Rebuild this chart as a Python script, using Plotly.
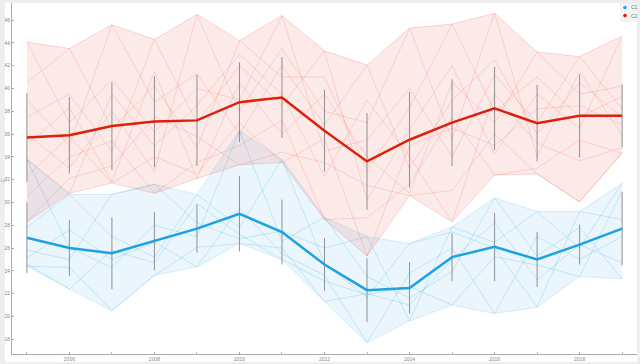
import plotly.graph_objects as go

years = list(range(2005, 2020))

# C1 (blue) summary
c1_mean = [26.9, 26.0, 25.55, 26.6, 27.7, 29.0, 27.4, 24.55, 22.3, 22.5, 25.2, 26.1, 25.0, 26.3, 27.7]
c1_err = [3.1, 2.45, 3.15, 2.55, 2.1, 3.3, 2.85, 2.3, 2.8, 2.25, 2.1, 3.0, 2.4, 1.75, 3.2]
c1_max = [33.8, 30.7, 30.7, 31.6, 30.7, 36.3, 33.8, 28.7, 27.0, 26.4, 27.85, 30.4, 29.2, 29.2, 31.7]
c1_min = [24.4, 22.4, 20.5, 23.6, 24.35, 26.4, 25.0, 21.3, 17.7, 19.6, 21.0, 20.25, 20.8, 23.5, 23.3]

# C1 individual series
c1_s1 = [33.8, 26.0, 24.3, 28.0, 27.0, 36.3, 26.6, 28.7, 23.5, 21.6, 23.95, 30.4, 25.3, 27.8, 23.3]
c1_s2 = [27.8, 30.7, 27.0, 25.2, 30.7, 27.8, 33.8, 24.6, 21.7, 26.4, 27.4, 26.0, 20.8, 29.2, 28.5]
c1_s3 = [25.8, 25.0, 30.7, 31.6, 28.2, 26.8, 27.5, 26.0, 27.0, 19.6, 27.85, 26.5, 29.2, 26.0, 31.7]
c1_s4 = [25.1, 27.6, 25.0, 26.5, 24.35, 29.5, 25.5, 23.6, 17.7, 23.8, 26.0, 20.25, 27.0, 25.0, 27.0]
c1_s5 = [24.6, 22.4, 25.8, 24.7, 29.9, 27.2, 25.0, 23.1, 21.9, 22.6, 21.0, 25.25, 24.5, 23.5, 31.0]
c1_s6 = [24.4, 24.3, 20.5, 23.6, 26.05, 26.4, 26.0, 21.3, 22.0, 21.0, 25.0, 28.2, 23.2, 26.3, 24.7]

# C2 (red) summary
c2_mean = [35.7, 35.9, 36.7, 37.1, 37.2, 38.8, 39.2, 36.3, 33.6, 35.5, 37.0, 38.25, 36.96, 37.6, 37.6]
c2_err = [3.9, 3.35, 3.85, 4.0, 4.0, 3.5, 3.55, 3.6, 4.25, 4.2, 3.8, 3.65, 3.35, 3.65, 2.75]
c2_max = [44.07, 43.5, 45.6, 44.3, 46.5, 44.2, 46.4, 43.3, 42.05, 45.3, 45.65, 46.6, 43.2, 42.8, 44.6]
c2_min = [28.3, 30.8, 31.7, 30.8, 32.1, 33.3, 33.5, 28.5, 25.3, 30.6, 28.3, 32.4, 32.5, 30.05, 34.3]

# C2 individual series
c2_s1 = [44.07, 37.0, 40.8, 36.2, 40.0, 39.0, 46.4, 34.5, 35.5, 40.0, 34.0, 41.2, 37.0, 42.8, 38.2]
c2_s2 = [40.5, 43.5, 36.5, 40.2, 34.8, 44.2, 41.0, 41.0, 32.8, 38.3, 45.65, 38.0, 41.0, 37.5, 39.3]
c2_s3 = [39.0, 35.0, 45.6, 38.8, 41.3, 36.0, 42.0, 36.8, 42.05, 33.0, 39.0, 42.5, 36.0, 40.5, 37.5]
c2_s4 = [37.5, 39.5, 34.5, 44.3, 37.0, 42.0, 38.5, 43.3, 30.2, 36.4, 42.0, 34.3, 39.5, 36.5, 44.6]
c2_s5 = [36.0, 33.0, 38.0, 32.7, 46.5, 38.0, 43.5, 38.0, 37.0, 45.3, 35.5, 46.6, 34.0, 41.5, 35.9]
c2_s6 = [35.0, 38.3, 31.8, 41.5, 32.1, 40.5, 36.0, 39.5, 34.0, 30.8, 40.5, 37.0, 43.2, 39.5, 40.2]
c2_s7 = [33.8, 30.8, 39.5, 35.0, 38.5, 43.0, 39.5, 32.3, 39.0, 34.0, 28.3, 39.5, 35.2, 33.65, 34.8]
c2_s8 = [32.3, 35.8, 31.7, 34.0, 32.5, 37.0, 33.5, 35.6, 25.3, 35.0, 36.5, 35.0, 38.2, 38.5, 36.8]
c2_s9 = [30.53, 34.0, 35.4, 30.8, 33.5, 35.0, 37.2, 28.5, 28.65, 31.6, 37.5, 32.4, 33.0, 35.5, 34.3]
c2_s10 = [28.3, 32.1, 33.2, 37.5, 35.8, 33.3, 34.4, 33.5, 31.5, 30.6, 31.05, 36.0, 32.5, 30.05, 34.4]

x_ticks = [2006, 2008, 2010, 2012, 2014, 2016, 2018]
y_ticks = list(range(18, 47, 2))
legend_names = ["C1", "C2"]

BLUE = "rgb(30,161,225)"
RED = "rgb(222,32,11)"

fig = go.Figure()

def add_band(top, bot, rgb):
    fig.add_trace(go.Scatter(x=years, y=top, mode="lines",
                             line=dict(color=f"rgba({rgb},0.2)", width=0.8),
                             hoverinfo="skip", showlegend=False))
    fig.add_trace(go.Scatter(x=years, y=bot, mode="lines", fill="tonexty",
                             fillcolor=f"rgba({rgb},0.093)",
                             line=dict(color=f"rgba({rgb},0.2)", width=0.8),
                             hoverinfo="skip", showlegend=False))

add_band(c1_max, c1_min, "30,161,225")
add_band(c2_max, c2_min, "224,32,11")

for s in [c1_s1, c1_s2, c1_s3, c1_s4, c1_s5, c1_s6]:
    fig.add_trace(go.Scatter(x=years, y=s, mode="lines",
                             line=dict(color="rgba(30,161,225,0.25)", width=0.8),
                             hoverinfo="skip", showlegend=False))
for s in [c2_s1, c2_s2, c2_s3, c2_s4, c2_s5, c2_s6, c2_s7, c2_s8, c2_s9, c2_s10]:
    fig.add_trace(go.Scatter(x=years, y=s, mode="lines",
                             line=dict(color="rgba(224,32,11,0.17)", width=0.8),
                             hoverinfo="skip", showlegend=False))

for m, e in [(c1_mean, c1_err), (c2_mean, c2_err)]:
    fig.add_trace(go.Scatter(x=years, y=m, mode="markers",
                             marker=dict(size=1, color="rgba(0,0,0,0)"),
                             error_y=dict(type="data", array=e, visible=True,
                                          color="rgba(120,120,120,0.8)", thickness=1, width=0),
                             hoverinfo="skip", showlegend=False))

fig.add_trace(go.Scatter(x=years, y=c1_mean, mode="lines", name=legend_names[0],
                         line=dict(color=BLUE, width=2.5), showlegend=False))
fig.add_trace(go.Scatter(x=years, y=c2_mean, mode="lines", name=legend_names[1],
                         line=dict(color=RED, width=2.5), showlegend=False))

L, R, T, B = 12, 3, 3, 10
W, H = 640, 364
pw, ph = W - L - R, H - T - B

def px(xp):
    return (xp - L) / pw

def py(yp):
    return (H - B - yp) / ph

shapes = [
    dict(type="rect", xref="paper", yref="paper", x0=px(5), x1=px(637), y0=py(362), y1=py(3),
         fillcolor="white", line=dict(width=0), layer="below"),
    dict(type="rect", xref="paper", yref="paper", x0=px(620), x1=px(637), y0=py(22), y1=py(3),
         fillcolor="#f4f4f4", line=dict(width=0), layer="above"),
]
for cy, col in [(7.5, "rgb(20,175,240)"), (15.5, "rgb(235,20,0)")]:
    shapes.append(dict(type="circle", xref="paper", yref="paper",
                       x0=px(623.2), x1=px(626.8), y0=py(cy + 1.8), y1=py(cy - 1.8),
                       fillcolor=col, line=dict(width=0), layer="above"))

annotations = [
    dict(text=legend_names[0], xref="paper", yref="paper", x=px(628.5), y=py(7.5),
         xanchor="left", yanchor="middle", showarrow=False,
         font=dict(size=5, color="#777", family="Liberation Sans")),
    dict(text=legend_names[1], xref="paper", yref="paper", x=px(628.5), y=py(15.5),
         xanchor="left", yanchor="middle", showarrow=False,
         font=dict(size=5, color="#777", family="Liberation Sans")),
    dict(text="C", xref="paper", yref="paper", x=px(2.5), y=py(181),
         xanchor="center", yanchor="middle", showarrow=False, textangle=-90,
         font=dict(size=5, color="#888", family="Liberation Sans")),
]

fig.update_layout(
    width=W, height=H,
    margin=dict(l=L, r=R, t=T, b=B, pad=0, autoexpand=False),
    paper_bgcolor="#eeeeee", plot_bgcolor="white",
    showlegend=False,
    shapes=shapes, annotations=annotations,
    font=dict(family="Liberation Sans", size=5, color="#888"),
    xaxis=dict(range=[2004.65, 2019.35], tickvals=x_ticks, ticktext=[str(v) for v in x_ticks],
               ticks="inside", ticklen=2, tickcolor="#aaa", showgrid=False, zeroline=False,
               showline=True, linecolor="#aaa", linewidth=1, automargin=False,
               tickfont=dict(size=5, color="#888"),
               minor=dict(dtick=1, tick0=2005, ticks="inside", ticklen=2, tickcolor="#bbb", showgrid=False)),
    yaxis=dict(range=[16.7, 47.5], tickvals=y_ticks, ticks="inside", ticklen=2, tickcolor="#aaa",
               showgrid=False, zeroline=False, showline=True, linecolor="#aaa", linewidth=1,
               automargin=False, tickfont=dict(size=5, color="#888")),
)

fig.write_html("out.html", config={"displayModeBar": False},
               post_script="document.body.style.margin='0';document.body.style.padding='0';document.body.style.overflow='hidden';")
